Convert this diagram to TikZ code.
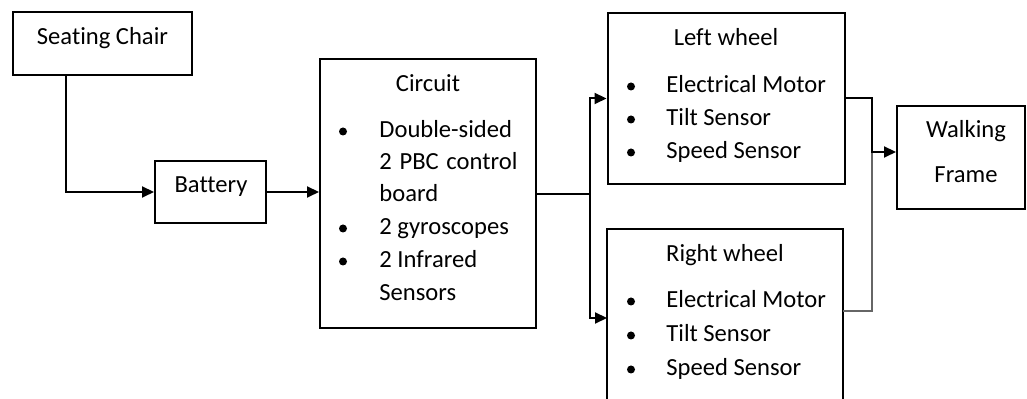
\documentclass[tikz,border=0pt]{standalone}
\usepackage{fontspec}
\setmainfont{Carlito}[Ligatures={NoCommon}]
\usetikzlibrary{arrows.meta}
\begin{document}
\begin{tikzpicture}[x=0.5pt,y=-0.5pt,
  box/.style={draw,line width=1pt,inner sep=0pt},
  txt/.style={inner sep=0pt,font=\fontsize{12.3}{15}\selectfont},
  arr/.style={line width=1pt,-{Triangle[length=6pt,width=5.5pt]}},
  ln/.style={line width=1pt},
  thinln/.style={line width=0.6pt,draw=black!60},
  dot/.style={circle,fill,inner sep=0pt,minimum size=4pt}]
\useasboundingbox (0,0) rectangle (1027,399);
\clip (0,0) rectangle (1027,399);
% boxes
\node[box,minimum width=89.5pt,minimum height=31.5pt] (chair) at (102.5,43.5) {};
\node[box,minimum width=55.5pt,minimum height=31pt] (battery) at (210.5,192) {};
\node[box,minimum width=108pt,minimum height=134.5pt] (circuit) at (428,193.5) {};
\node[box,minimum width=118.5pt,minimum height=85.5pt] (lw) at (726,98.5) {};
\node[box,minimum width=118pt,minimum height=100pt] (rw) at (725,329) {};
\node[box,minimum width=64pt,minimum height=51.5pt] (wf) at (961,157.5) {};
% texts
\node[txt,anchor=base] (tchair) at (102.5,45) {Seating Chair};
\node[txt,anchor=base] (tbat) at (211,193) {Battery};
\node[txt,anchor=base] (tcir) at (428,91.7) {Circuit};
\node[txt,anchor=base west] (c1) at (379,138) {Double-sided};
\node[txt,anchor=base west] (c2) at (379,170) {\makebox[69pt][s]{2 PBC control}};
\node[txt,anchor=base west] (c3) at (379,202) {board};
\node[txt,anchor=base west] (c4) at (379,235) {2 gyroscopes};
\node[txt,anchor=base west] (c5) at (379,268) {2 Infrared};
\node[txt,anchor=base west] (c6) at (379,301) {Sensors};
\node[dot] (b1) at (343,131.5) {};
\node[dot] (b2) at (343,228.5) {};
\node[dot] (b3) at (343,261.5) {};
\node[txt,anchor=base] (tlw) at (726,46) {Left wheel};
\node[txt,anchor=base west] (l1) at (666,92.7) {Electrical Motor};
\node[txt,anchor=base west] (l2) at (666,126) {Tilt Sensor};
\node[txt,anchor=base west] (l3) at (666,159) {Speed Sensor};
\node[dot] (lb1) at (631,86.5) {};
\node[dot] (lb2) at (631,119.5) {};
\node[dot] (lb3) at (631,152.5) {};
\node[txt,anchor=base] (trw) at (725,262) {Right wheel};
\node[txt,anchor=base west] (r1) at (666,308) {Electrical Motor};
\node[txt,anchor=base west] (r2) at (666,342) {Tilt Sensor};
\node[txt,anchor=base west] (r3) at (666,376) {Speed Sensor};
\node[dot] (rb1) at (631,301.5) {};
\node[dot] (rb2) at (631,335.5) {};
\node[dot] (rb3) at (631,369.5) {};
\node[txt,anchor=base] (twf1) at (966,138) {Walking};
\node[txt,anchor=base] (twf2) at (966,183) {Frame};
% connectors
\coordinate (j) at (590,194);
\coordinate (rin) at (607,318);
\coordinate (k) at (872,152);
\coordinate (rout) at (843,311);
\draw[arr] ([xshift=27pt]chair.south west) |- (battery.west);
\draw[arr] (battery.east) -- (circuit.west |- battery.east);
\draw[ln] (circuit.east |- j) -- (j);
\draw[arr] (j) |- (lw.west);
\draw[arr] (j) |- (rin);
\draw[thinln] (rout) -| (k);
\draw[arr] (lw.east) -| (k) -- (wf.west |- k);
\end{tikzpicture}
\end{document}
